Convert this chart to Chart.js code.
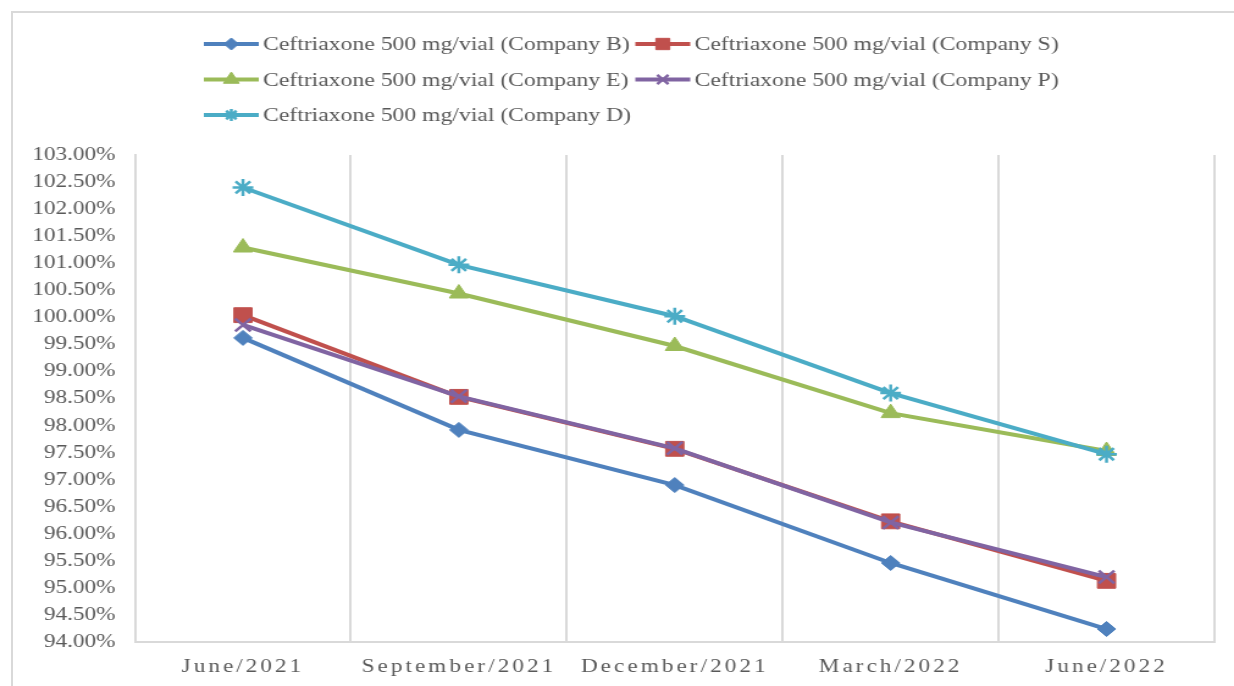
<!DOCTYPE html>
<html>
<head>
<meta charset="utf-8">
<script src="https://cdn.jsdelivr.net/npm/chart.js@4.4.0/dist/chart.umd.min.js"></script>
<style>
  html, body { margin: 0; padding: 0; background: #fff; overflow: hidden; }
  #frame { position: absolute; left: 11px; top: 11px; width: 1240px; height: 700px; border: 2px solid #d9d9d9; box-sizing: border-box; }
  /* the reference is stretched sideways, so the whole chart is drawn narrow and scaled */
  #wrap { position: absolute; left: 0; top: 0; width: 1011px; height: 686px; transform: scaleX(1.2206); transform-origin: 0 0; }
</style>
</head>
<body>
<div id="frame"></div>
<div id="wrap"><canvas id="lineChart"></canvas></div>
<script>
// Data
const months = ['June/2021', 'September/2021', 'December/2021', 'March/2022', 'June/2022'];
const companyB = [99.62, 97.92, 96.90, 95.46, 94.24];
const companyS = [100.04, 98.53, 97.57, 96.23, 95.13];
const companyE = [101.29, 100.44, 99.47, 98.23, 97.53];
const companyP = [99.86, 98.54, 97.58, 96.21, 95.20];
const companyD = [102.40, 100.97, 100.02, 98.60, 97.47];

const serif = '"Liberation Serif", "Times New Roman", serif';
const legendRadius = [6, 8, 7.5, 6.5, 6];

function series(label, data, color, style, radius, order, bw) {
    return {
        label: label,
        data: data,
        borderColor: color,
        backgroundColor: color,
        borderWidth: 4,
        pointStyle: style,
        pointRadius: radius,
        pointBorderWidth: bw,
        pointBackgroundColor: color,
        pointBorderColor: color,
        tension: 0,
        fill: false,
        order: order
    };
}

// Legend with line + marker, two columns
const legendLine = {
    id: 'legendLine',
    afterDraw(chart) {
        const ctx = chart.ctx;
        chart.data.datasets.forEach((ds, i) => {
            const col = i % 2, row = Math.floor(i / 2);
            const x0 = col ? 520.5 : 167;
            const y = 44 + row * 35.5;
            ctx.save();
            ctx.strokeStyle = ds.borderColor;
            ctx.fillStyle = ds.borderColor;
            ctx.lineWidth = 4;
            ctx.beginPath();
            ctx.moveTo(x0, y);
            ctx.lineTo(x0 + 45, y);
            ctx.stroke();
            ctx.lineWidth = ds.pointBorderWidth;
            Chart.helpers.drawPoint(ctx, {
                pointStyle: ds.pointStyle, radius: legendRadius[i], rotation: 0, borderWidth: ds.pointBorderWidth
            }, x0 + 22.5, y);
            ctx.fillStyle = '#595959';
            ctx.font = '19.4px ' + serif;
            ctx.textBaseline = 'middle';
            ctx.textAlign = 'left';
            ctx.fillText(ds.label, x0 + 48.5, y + 1);
            ctx.restore();
        });
    }
};

// x tick labels are letter-spaced in the reference
const spacedTicks = {
    id: 'spacedTicks',
    beforeDraw(chart) {
        const sc = chart.scales.x;
        if (sc._spaced) return;
        const orig = sc.drawLabels;
        sc.drawLabels = function (area) {
            chart.ctx.save();
            chart.ctx.letterSpacing = '2.5px';
            orig.call(this, area);
            chart.ctx.restore();
        };
        sc._spaced = true;
    }
};

const lineChartCtx = document.getElementById('lineChart').getContext('2d');
new Chart(lineChartCtx, {
    type: 'line',
    data: {
        labels: months,
        datasets: [
            series('Ceftriaxone 500 mg/vial (Company B)', companyB, '#4F81BD', 'rectRot', 7.5, 5, 1),
            series('Ceftriaxone 500 mg/vial (Company S)', companyS, '#C0504D', 'rect', 10.5, 4, 1),
            series('Ceftriaxone 500 mg/vial (Company E)', companyE, '#9BBB59', 'triangle', 9, 3, 1),
            series('Ceftriaxone 500 mg/vial (Company P)', companyP, '#8064A2', 'crossRot', 9, 2, 2.5),
            series('Ceftriaxone 500 mg/vial (Company D)', companyD, '#4BACC6', 'star', 8.5, 1, 2.5)
        ]
    },
    options: {
        responsive: true,
        maintainAspectRatio: false,
        animation: false,
        events: [],
        layout: { padding: { top: 155, right: 16, bottom: 0, left: 0 } },
        plugins: {
            legend: { display: false },
            tooltip: { enabled: false }
        },
        scales: {
            x: {
                offset: true,
                grid: { display: true, offset: true, color: '#d9d9d9', lineWidth: 2, drawTicks: false },
                border: { display: true, color: '#d9d9d9', width: 2 },
                ticks: {
                    color: '#595959', font: { family: serif, size: 19 }, padding: 14,
                    maxRotation: 0, autoSkip: false
                },
                afterFit(scale) { scale.height = 44; }
            },
            y: {
                min: 94,
                max: 103,
                grid: { display: false, drawTicks: false },
                border: { display: true, color: '#d9d9d9', width: 2 },
                ticks: {
                    stepSize: 0.5, autoSkip: false, color: '#595959',
                    font: { family: serif, size: 19 }, padding: 16,
                    callback: v => v.toFixed(2) + '%'
                },
                afterFit(scale) { scale.width = 110.6; }
            }
        }
    },
    plugins: [legendLine, spacedTicks]
});
</script>
</body>
</html>
